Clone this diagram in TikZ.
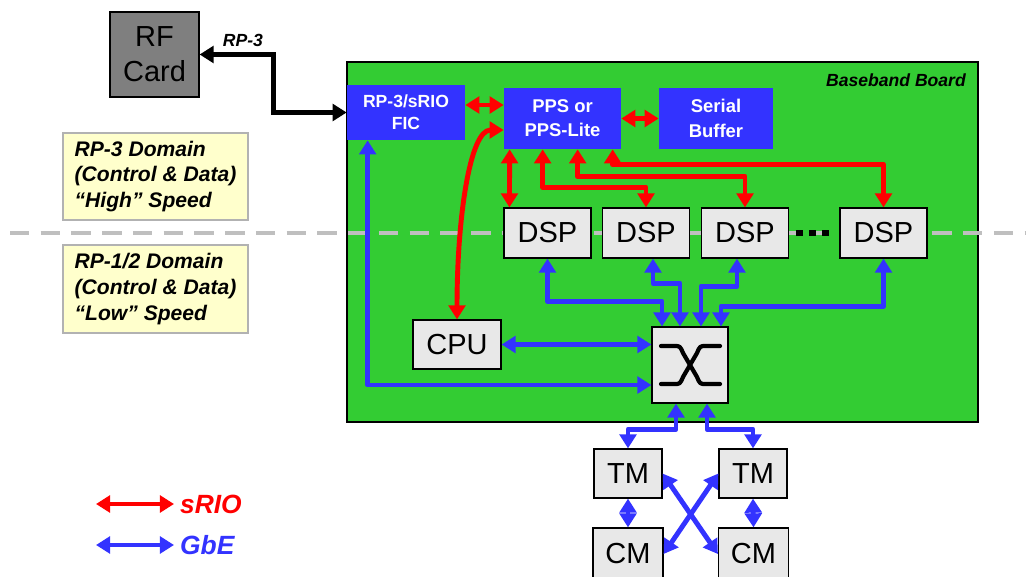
\documentclass[tikz,border=0pt]{standalone}
\usepackage{fontspec}
\setmainfont{Liberation Sans}
\usepackage{xcolor}
\usetikzlibrary{arrows.meta, positioning, calc}
\definecolor{boardgreen}{HTML}{33CC33}
\definecolor{chipblue}{HTML}{3333FF}
\definecolor{sriored}{HTML}{FF0000}
\definecolor{chipgray}{HTML}{E8E8E8}
\definecolor{rfgray}{HTML}{7F7F7F}
\definecolor{domyellow}{HTML}{FFFFCC}
\definecolor{dashgray}{HTML}{BFBFBF}

\begin{document}
\begin{tikzpicture}[x=0.02cm, y=-0.02cm,
    every node/.style={font=\fontsize{16.5}{20}\selectfont},
    chip/.style={draw=black, line width=0.7pt, fill=chipgray, inner sep=0pt},
    bluebox/.style={fill=chipblue, text=white, align=center, inner sep=0pt,
        font=\fontsize{10}{12.5}\selectfont\bfseries},
    dombox/.style={draw=gray!60, line width=0.6pt, fill=domyellow, align=left,
        minimum width=3.70cm, font=\fontsize{12}{14.7}\selectfont\bfseries\itshape},
    legtext/.style={font=\fontsize{15}{18}\selectfont\bfseries\itshape},
    link/.style={line width=2.8pt, line join=round, {Triangle[width=9.5pt,length=8pt]}-{Triangle[width=9.5pt,length=8pt]}},
    srio/.style={link, draw=sriored},
    gbe/.style={link, draw=chipblue},
    swsym/.style={line width=2.4pt, line cap=round, line join=round}]
    \useasboundingbox (0,0) rectangle (1026,577);

    % board and speed boundary
    \node[draw, line width=0.8pt, fill=boardgreen, minimum width=12.62cm, minimum height=7.2cm, inner sep=0pt] (board) at (662.5,242) {};
    \node[anchor=east, font=\fontsize{10}{12}\selectfont\bfseries\itshape] (boardlab) at (972,80) {Baseband Board};
    \coordinate (dashL) at (10,233);
    \coordinate (dashR) at (1026,233);
    \draw[dashgray, line width=2.8pt, dash pattern=on 11pt off 6.5pt] (dashL) -- (dashR);

    \node[dombox, minimum height=1.74cm] (hidom) at (155.5,176.5) {RP-3 Domain\\(Control \& Data)\\“High” Speed};
    \node[dombox, minimum height=1.76cm] (lodom) at (155.5,289) {RP-1/2 Domain\\(Control \& Data)\\“Low” Speed};

    % blocks
    \node[chip, fill=rfgray, align=center, minimum width=1.78cm, minimum height=1.70cm] (rf) at (154.5,54.5) {RF\\Card};
    \node[bluebox, minimum width=2.36cm, minimum height=1.10cm] (fic) at (406,112.5) {RP-3/sRIO\\FIC};
    \node[bluebox, minimum width=2.34cm, minimum height=1.22cm, font=\fontsize{10.5}{13.8}\selectfont\bfseries] (pps) at (562.5,118.5) {PPS or\\PPS-Lite};
    \node[bluebox, minimum width=2.28cm, minimum height=1.22cm, font=\fontsize{10.5}{13.8}\selectfont\bfseries] (sbuf) at (716,118.5) {Serial\\Buffer};
    \node[chip, minimum width=1.74cm, minimum height=1.0cm] (dsp1) at (547.5,233) {DSP};
    \node[chip, minimum width=1.74cm, minimum height=1.0cm] (dsp2) at (646,233) {DSP};
    \node[chip, minimum width=1.74cm, minimum height=1.0cm] (dsp3) at (745,233) {DSP};
    \node[chip, minimum width=1.74cm, minimum height=1.0cm] (dsp4) at (883.5,233) {DSP};
    \node[chip, minimum width=1.76cm, minimum height=0.98cm] (cpu) at (457,344.5) {CPU};
    \node[chip, minimum width=1.52cm, minimum height=1.52cm] (sw) at (690,365) {};
    \node[chip, minimum width=1.36cm, minimum height=0.98cm] (tm1) at (628,473.5) {TM};
    \node[chip, minimum width=1.36cm, minimum height=0.98cm] (tm2) at (753,473.5) {TM};
    \node[chip, minimum width=1.40cm, minimum height=1.04cm] (cm1) at (628,554) {CM};
    \node[chip, minimum width=1.40cm, minimum height=1.04cm] (cm2) at (753.5,554) {CM};

    % switch symbol
    \begin{scope}[shift={(sw.center)}]
        \draw[swsym] (-29,-19) -- (-16,-19) .. controls (-10,-19) .. (-7,-12) -- (7,12) .. controls (10,19) .. (16,19) -- (30,19);
        \draw[swsym] (-29,19) -- (-16,19) .. controls (-10,19) .. (-7,12) -- (7,-12) .. controls (10,-19) .. (16,-19) -- (30,-19);
    \end{scope}
    \draw[black, line width=3.6pt, dash pattern=on 4pt off 3.4pt] ($(dsp3.east)+(7,0)$) -- ($(dsp4.west)+(-7,0)$);

    % RP-3 link
    \draw[link, draw=black, line join=miter] (rf.east) -| ($(rf.east)!.5!(fic.west)$) |- (fic.west);
    \node[font=\fontsize{10}{12}\selectfont\bfseries\itshape] (rp3lab) at (243,40) {RP-3};

    % sRIO
    \draw[srio] ($(fic.east)+(0,-7.5)$) -- ($(pps.west)+(0,-13.5)$);
    \draw[srio] (pps.east) -- (sbuf.west);
    \draw[srio] ($(pps.south west)+(6,0)$) -- ($(dsp1.north west)+(6,0)$);
    \draw[srio] ($(pps.south west)+(39,0)$) |- ($(dsp2.north)+(0,-20)$) -- (dsp2.north);
    \draw[srio] ($(pps.south west)+(74,0)$) |- ($(dsp3.north)+(0,-31)$) -- (dsp3.north);
    \draw[srio] ($(pps.south west)+(109,0)$) |- ($(dsp4.north)+(0,-43)$) -- (dsp4.north);
    \draw[srio] (cpu.north) .. controls ($(cpu.north)+(0,-100)$) and ($(pps.west)+(-34,11.5)$) .. ($(pps.west)+(0,11.5)$);

    % GbE
    \draw[gbe] ($(fic.south west)+(21,0)$) |- ($(sw.west)+(0,20)$);
    \draw[gbe] (cpu.east) -- (sw.west |- cpu.east);
    \draw[gbe] (dsp1.south) |- ($(sw.north)+(-28,-25)$) -- ($(sw.north)+(-28,0)$);
    \draw[gbe] ($(dsp2.south)+(7,0)$) |- ($(sw.north)+(-10,-43)$) -- ($(sw.north)+(-10,0)$);
    \draw[gbe] ($(dsp3.south)+(-8,0)$) |- ($(sw.north)+(11,-40)$) -- ($(sw.north)+(11,0)$);
    \draw[gbe] (dsp4.south) |- ($(sw.north)+(31,-20)$) -- ($(sw.north)+(31,0)$);
    \draw[gbe] ($(sw.south)+(-14,0)$) |- ($(tm1.north)+(0,-19)$) -- (tm1.north);
    \draw[gbe] ($(sw.south)+(17,0)$) |- ($(tm2.north)+(0,-19)$) -- (tm2.north);
    \draw[gbe] (tm1.south) -- (cm1.north);
    \draw[gbe] (tm2.south) -- (cm2.north);
    \draw[gbe] (tm1.east) -- (cm2.west);
    \draw[gbe] (tm2.west) -- (cm1.east);

    % legend
    \coordinate (srioleg) at (96,504);
    \coordinate (gbeleg) at (96,545);
    \node[legtext, text=sriored, anchor=west] (sriolab) at (174,504) {sRIO};
    \node[legtext, text=chipblue, anchor=west] (gbelab) at (174,545) {GbE};
    \draw[srio] (srioleg) -- (sriolab.west);
    \draw[gbe] (gbeleg) -- (gbelab.west);
\end{tikzpicture}
\end{document}
